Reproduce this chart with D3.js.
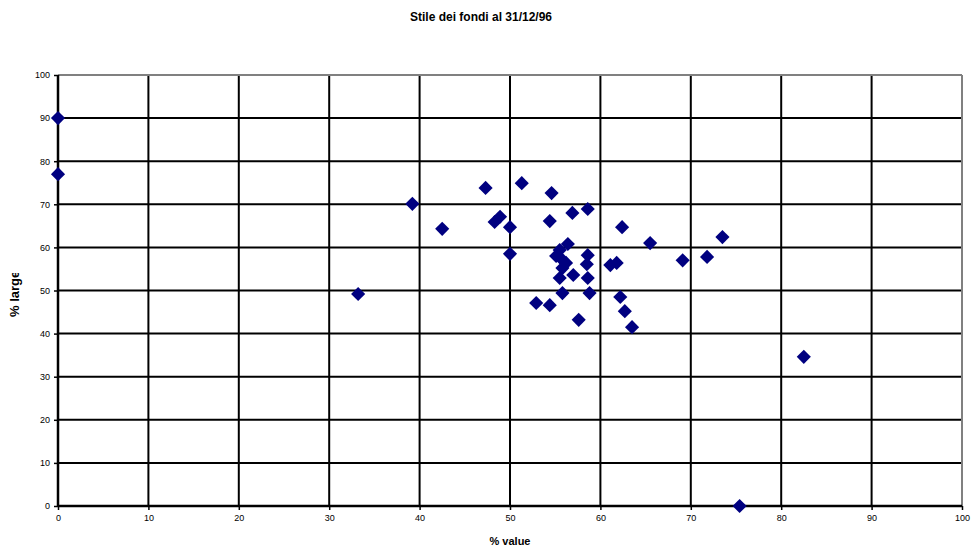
<!DOCTYPE html>
<html><head><meta charset="utf-8">
<script src="https://cdn.jsdelivr.net/npm/d3@7"></script>
<style>body{margin:0;background:#fff;} svg{display:block;font-family:"Liberation Sans",Arial,sans-serif;}</style>
</head><body>
<svg id="c" width="973" height="547"></svg>
<script>
const title = "Stile dei fondi al 31/12/96";
const xLabel = "% value";
const yLabel = "% large";
const xTicks = [0,10,20,30,40,50,60,70,80,90,100];
const yTicks = [0,10,20,30,40,50,60,70,80,90,100];
const valuePct = [0,0,33.2,39.2,42.5,47.3,51.3,54.6,56.9,58.6,54.4,50.0,48.3,48.9,50.0,
  56.4,55.5,55.1,55.8,56.2,55.8,55.5,57.0,58.6,58.5,58.6,55.8,58.8,52.9,54.4,57.6,
  61.1,61.8,62.2,62.7,63.5,62.4,65.5,73.5,69.1,71.8,82.5,75.4];
const largePct = [90,77,49.2,70.1,64.3,73.8,74.9,72.6,68.0,68.9,66.1,64.7,65.9,67.1,58.5,
  60.8,59.4,58.0,57.1,56.4,55.2,52.9,53.6,58.2,56.1,52.9,49.4,49.4,47.1,46.6,43.2,
  55.9,56.4,48.5,45.2,41.5,64.7,61.0,62.4,57.0,57.8,34.6,0];

const svg = d3.select("#c");
const L=58, R=962, T=75, B=506;
const x = d3.scaleLinear().domain([0,100]).range([L,R]);
const y = d3.scaleLinear().domain([0,100]).range([B,T]);

const g = svg.append("g");
g.selectAll(".gx").data(xTicks.filter(d=>d>0&&d<100)).join("line")
  .attr("x1",d=>x(d)).attr("x2",d=>x(d)).attr("y1",T).attr("y2",B)
  .attr("stroke","#000").attr("stroke-width",2);
g.selectAll(".gy").data(yTicks.filter(d=>d>0&&d<100)).join("line")
  .attr("x1",L).attr("x2",R).attr("y1",d=>y(d)).attr("y2",d=>y(d))
  .attr("stroke","#000").attr("stroke-width",2);
g.append("line").attr("x1",L).attr("x2",R).attr("y1",T).attr("y2",T).attr("stroke","#808080").attr("stroke-width",2);
g.append("line").attr("x1",R).attr("x2",R).attr("y1",T).attr("y2",B).attr("stroke","#808080").attr("stroke-width",2);

const xa = svg.append("g").attr("transform",`translate(0,${B})`)
  .call(d3.axisBottom(x).tickValues(xTicks).tickSize(4).tickPadding(5).tickFormat(d3.format("d")));
const ya = svg.append("g").attr("transform",`translate(${L},0)`)
  .call(d3.axisLeft(y).tickValues(yTicks).tickSize(4).tickPadding(4).tickFormat(d3.format("d")));
[xa,ya].forEach(a=>{
  a.select(".domain").attr("stroke","#000").attr("stroke-width",2.5);
  a.selectAll(".tick line").attr("stroke","#000").attr("stroke-width",1.5);
  a.selectAll(".tick text").attr("font-size",9).attr("fill","#000").attr("font-family","Liberation Sans, Arial, sans-serif");
});
xa.select(".domain").attr("d",`M${L},0H${R}`);
ya.select(".domain").attr("d",`M0,${T}V${B}`);

const pts = valuePct.map((v,i)=>({v, l:largePct[i]}));
const sym = d3.symbol().type(d3.symbolSquare).size(100);
svg.append("g").selectAll("path").data(pts).join("path")
  .attr("d",sym)
  .attr("transform",d=>`translate(${x(d.v)},${y(d.l)}) rotate(45)`)
  .attr("fill","#000080");

svg.append("text").attr("x",481).attr("y",21).attr("text-anchor","middle")
  .attr("font-size",12).attr("font-weight","bold").text(title);
svg.append("text").attr("x",510).attr("y",545).attr("text-anchor","middle")
  .attr("font-size",11).attr("font-weight","bold").text(xLabel);
svg.append("clipPath").attr("id","ycl").append("rect").attr("x",0).attr("y",273).attr("width",40).attr("height",100);
svg.append("g").attr("clip-path","url(#ycl)").append("text")
  .attr("transform","translate(19,317) rotate(-90)")
  .attr("text-anchor","start").attr("font-size",13)
  .attr("font-weight","bold").text(yLabel);
</script>
</body></html>
